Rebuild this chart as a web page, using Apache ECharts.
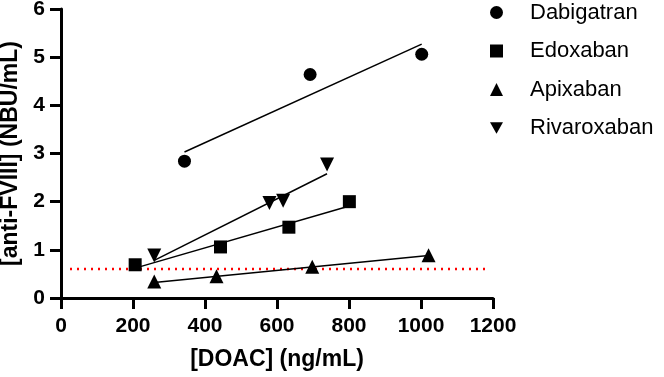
<!DOCTYPE html>
<html>
<head>
<meta charset="utf-8">
<script src="https://cdn.jsdelivr.net/npm/echarts@6/dist/echarts.min.js"></script>
<style>
  html, body { margin: 0; padding: 0; background: #fff; }
  #chart { width: 664px; height: 377px; }
</style>
</head>
<body>
<div id="chart"></div>
<script>
const dabigatran = [[343, 2.84], [692, 4.64], [1002, 5.06]]
const edoxaban = [[206, 0.69], [443, 1.06], [633, 1.47], [801, 2.0]]
const apixaban = [[259, 0.34], [432, 0.45], [698, 0.65], [1021, 0.89]]
const rivaroxaban = [[259, 0.88], [579, 1.97], [617, 2.02], [739, 2.77]]

// fitted lines (end points)
const dabigatranFit = [[343, 3.03], [1002, 5.27]]
const edoxabanFit = [[206, 0.62], [801, 1.91]]
const apixabanFit = [[259, 0.32], [1021, 0.88]]
const rivaroxabanFit = [[259, 0.78], [739, 2.58]]

// cut-off line
const cutoff = [[25, 0.6], [1185, 0.6]]

const names = ['Dabigatran', 'Edoxaban', 'Apixaban', 'Rivaroxaban']
const downTri = 'path://M0,0 L10,0 L5,9 Z'

const chart = echarts.init(document.getElementById('chart'))

const scatter = (name, data, symbol, size, rotate) => ({
  name: name,
  type: 'scatter',
  data: data,
  symbol: symbol,
  symbolSize: size,
  symbolRotate: rotate || 0,
  itemStyle: { color: '#000', opacity: 1 },
  z: 5
})

const fit = (data) => ({
  type: 'line',
  data: data,
  symbol: 'none',
  lineStyle: { color: '#000', width: 1.5 },
  silent: true,
  z: 3
})

chart.setOption({
  animation: false,
  grid: { left: 61, right: 171, top: 9, bottom: 79, containLabel: false, outerBoundsMode: 'none' },
  legend: {
    orient: 'vertical',
    left: 490,
    top: 1.5,
    padding: 0,
    itemWidth: 13,
    itemHeight: 13,
    itemGap: 16.5,
    itemStyle: { opacity: 1 },
    textStyle: { fontFamily: 'Liberation Sans, Arial', fontSize: 22, color: '#000', padding: [0, 0, 0, 22] },
    data: [
      { name: names[0], icon: 'circle' },
      { name: names[1], icon: 'rect' },
      { name: names[2], icon: 'triangle' },
      { name: names[3], icon: downTri }
    ]
  },
  xAxis: {
    type: 'value',
    min: 0,
    max: 1200,
    interval: 200,
    name: '[DOAC] (ng/mL)',
    nameLocation: 'middle',
    nameGap: 50,
    nameTextStyle: { fontFamily: 'Liberation Sans, Arial', fontWeight: 'bold', fontSize: 23, color: '#000' },
    axisLine: { lineStyle: { color: '#000', width: 3 } },
    axisTick: { length: 11, lineStyle: { color: '#000', width: 3 } },
    axisLabel: {
      margin: 18,
      fontFamily: 'Liberation Sans, Arial',
      fontWeight: 'bold',
      fontSize: 21,
      color: '#000',
      formatter: (v) => String(v)
    },
    splitLine: { show: false }
  },
  yAxis: {
    type: 'value',
    min: 0,
    max: 6,
    interval: 1,
    name: '[anti-FVIII] (NBU/mL)',
    nameLocation: 'middle',
    nameGap: 35,
    nameTextStyle: { fontFamily: 'Liberation Sans, Arial', fontWeight: 'bold', fontSize: 23, color: '#000' },
    axisLine: { show: true, lineStyle: { color: '#000', width: 3 } },
    axisTick: { show: true, length: 11, lineStyle: { color: '#000', width: 3 } },
    axisLabel: { margin: 16, fontFamily: 'Liberation Sans, Arial', fontWeight: 'bold', fontSize: 21, color: '#000' },
    splitLine: { show: false }
  },
  series: [
    {
      type: 'line',
      data: cutoff,
      symbol: 'none',
      lineStyle: { color: '#ff0000', width: 2.5, type: [2, 5] },
      silent: true,
      z: 2
    },
    fit(dabigatranFit),
    fit(edoxabanFit),
    fit(apixabanFit),
    fit(rivaroxabanFit),
    scatter(names[0], dabigatran, 'circle', 13),
    scatter(names[1], edoxaban, 'rect', 13),
    scatter(names[2], apixaban, 'triangle', 14),
    scatter(names[3], rivaroxaban, 'triangle', 14, 180)
  ]
})
</script>
</body>
</html>
